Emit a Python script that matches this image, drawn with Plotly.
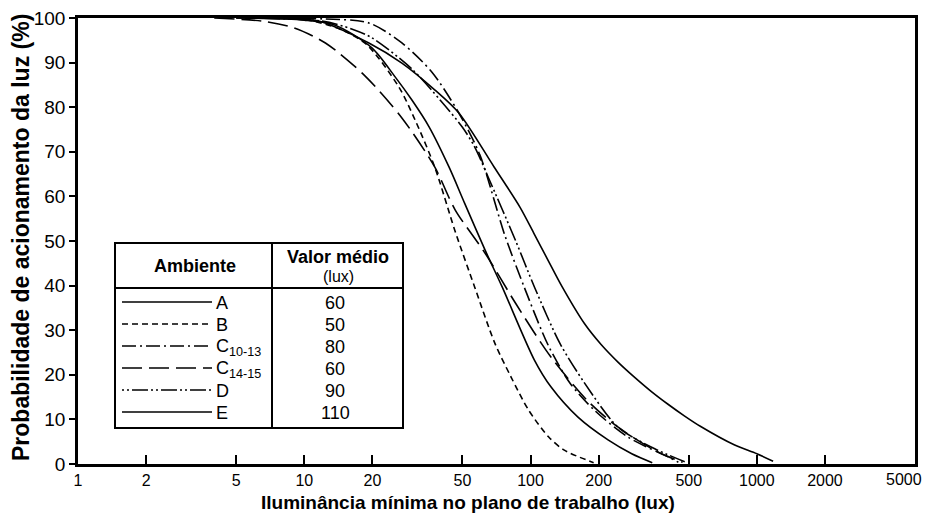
import plotly.graph_objects as go

# ---------------- data ----------------
x_ticks = [1, 2, 5, 10, 20, 50, 100, 200, 500, 1000, 2000, 5000]
x_tick_labels = ["1", "2", "5", "10", "20", "50", "100", "200", "500", "1000", "2000", ""]
x_last_label = "5000"
y_ticks = [0, 10, 20, 30, 40, 50, 60, 70, 80, 90, 100]

a_lux = [5, 10, 13.7, 19.9, 25.2, 29.9, 35.6, 43.6, 51.1, 62.9, 74.9, 104, 123, 162, 220, 280, 345]
a_pct = [100, 99.5, 98.4, 93.3, 86.8, 81.6, 75.6, 66.6, 58.5, 48.0, 39.7, 23.3, 17.3, 10.5, 5.4, 2.3, 0.3]

b_lux = [5, 10, 14.7, 18.9, 26.2, 30.9, 37.7, 46.4, 56.6, 69.5, 82, 98, 120, 141, 190]
b_pct = [100, 99.7, 97.3, 94.0, 84.5, 77.1, 66.6, 52.2, 39.7, 27.1, 19.5, 12.1, 6.1, 3.1, 0.3]

c1013_lux = [6, 12, 19.3, 27, 36.6, 48.2, 59.7, 76.7, 94, 120, 150, 192, 270, 405, 450]
c1013_pct = [100, 99.8, 98.9, 94.4, 87.9, 78.7, 69.3, 51.5, 39.5, 26.5, 18.0, 12.0, 6.0, 1.6, 0.4]

c1415_lux = [4, 6.5, 9.0, 12.4, 18.4, 27, 37.7, 46.4, 62.9, 86.7, 123, 180, 243, 365, 470]
c1415_pct = [100, 99.3, 97.8, 94.4, 87.2, 77.6, 66.6, 57.0, 47.3, 35.7, 24.0, 14.0, 8.3, 2.7, 0.4]

d_lux = [6, 12, 16.3, 20, 30, 40, 50, 56.6, 65, 86, 104, 135, 173, 243, 341, 480]
d_pct = [100, 99.3, 97.5, 95.5, 88.5, 81.5, 75.5, 71.1, 64.3, 50.0, 39.7, 27.0, 18.2, 8.3, 3.8, 0.5]

e_lux = [6, 9.8, 12, 19.3, 27, 37.7, 48.2, 69, 90, 104, 120, 137, 173, 205, 244, 286, 341, 405, 478, 565, 794, 1000, 1180]
e_pct = [100, 99.8, 99.1, 94.4, 89.9, 83.9, 78.7, 66.6, 57.5, 51.5, 45.5, 40.0, 31.5, 26.8, 22.8, 19.6, 16.3, 13.4, 10.8, 8.4, 4.3, 2.3, 0.6]

legend_names = ["A", "B", "C<sub>10-13</sub>", "C<sub>14-15</sub>", "D", "E"]
legend_means = ["60", "50", "80", "60", "90", "110"]

# ---------------- styles ----------------
DASH = {
    "A": "solid",
    "B": "6px,4px",
    "C1013": "14px,4px,2px,4px",
    "C1415": "20px,7px",
    "D": "2px,3px,2px,3px,16px,3px",
    "E": "solid",
}
series = [
    ("A", a_lux, a_pct, DASH["A"]),
    ("B", b_lux, b_pct, DASH["B"]),
    ("C10-13", c1013_lux, c1013_pct, DASH["C1013"]),
    ("C14-15", c1415_lux, c1415_pct, DASH["C1415"]),
    ("D", d_lux, d_pct, DASH["D"]),
    ("E", e_lux, e_pct, DASH["E"]),
]

# the page body adds an 8px margin on every side; size the figure so nothing scrolls
OFF = 8
W, H = 933 - 2 * OFF, 521 - 2 * OFF
PL, PR, PT, PB = 78, 915, 18, 464          # plot area in window pixels
L, T = PL - OFF, PT - OFF
R, B = W - (PR - OFF), H - (PB - OFF)
PW, PH = PR - PL, PB - PT


def px(x):
    return (x - PL) / PW


def py(y):
    return (PB - y) / PH


fig = go.Figure()
for name, xs, ys, dash in series:
    fig.add_trace(go.Scatter(
        x=xs, y=ys, mode="lines", name=name,
        line=dict(color="black", width=1.6, dash=dash, shape="spline", smoothing=0.8),
        showlegend=False, hoverinfo="skip",
    ))

shapes = []
annotations = []

# table box
box_l, box_r, box_t, box_b = px(115), px(403), py(243), py(428)
shapes.append(dict(type="rect", xref="paper", yref="paper", x0=box_l, x1=box_r, y0=box_b, y1=box_t,
                   line=dict(color="black", width=2), fillcolor="white", layer="above"))
shapes.append(dict(type="line", xref="paper", yref="paper", x0=box_l, x1=box_r, y0=py(288), y1=py(288),
                   line=dict(color="black", width=2)))
shapes.append(dict(type="line", xref="paper", yref="paper", x0=px(272), x1=px(272), y0=box_b, y1=box_t,
                   line=dict(color="black", width=2)))

row_y = [302, 324, 346, 368, 390, 412]
for (name, xs, ys, dash), lab, val, ry in zip(series, legend_names, legend_means, row_y):
    shapes.append(dict(type="line", xref="paper", yref="paper", x0=px(122), x1=px(212), y0=py(ry), y1=py(ry),
                       line=dict(color="black", width=1.6, dash=dash)))
    annotations.append(dict(xref="paper", yref="paper", x=px(214), y=py(ry + 1), text=lab, showarrow=False,
                            xanchor="left", yanchor="middle", font=dict(size=18, color="black")))
    annotations.append(dict(xref="paper", yref="paper", x=px(335), y=py(ry + 1), text=val, showarrow=False,
                            xanchor="center", yanchor="middle", font=dict(size=18, color="black")))

annotations.append(dict(xref="paper", yref="paper", x=px(195), y=py(266), text="<b>Ambiente</b>",
                        showarrow=False, xanchor="center", yanchor="middle", font=dict(size=18, color="black")))
annotations.append(dict(xref="paper", yref="paper", x=px(338), y=py(257), text="<b>Valor médio</b>",
                        showarrow=False, xanchor="center", yanchor="middle", font=dict(size=18, color="black")))
annotations.append(dict(xref="paper", yref="paper", x=px(338), y=py(276), text="(lux)",
                        showarrow=False, xanchor="center", yanchor="middle", font=dict(size=16, color="black")))

# last x tick label, kept inside the page edge
annotations.append(dict(xref="paper", yref="paper", x=px(924), y=py(479), text=x_last_label,
                        showarrow=False, xanchor="right", yanchor="middle", font=dict(size=16, color="black")))

# axis titles
annotations.append(dict(xref="paper", yref="paper", x=px(468), y=py(502),
                        text="<b>Iluminância mínima no plano de trabalho (lux)</b>",
                        showarrow=False, xanchor="center", yanchor="middle", font=dict(size=19, color="black")))
annotations.append(dict(xref="paper", yref="paper", x=px(21), y=py(238), textangle=-90,
                        text="<b>Probabilidade de acionamento da luz (%)</b>",
                        showarrow=False, xanchor="center", yanchor="middle", font=dict(size=23, color="black")))

fig.update_layout(
    width=W, height=H,
    margin=dict(l=L, r=R, t=T, b=B, autoexpand=False),
    paper_bgcolor="white", plot_bgcolor="white",
    font=dict(family="Liberation Sans, Arial, sans-serif", color="black", size=16),
    shapes=shapes, annotations=annotations,
)
fig.update_xaxes(
    type="log", range=[0, 3.69897], automargin=False,
    tickvals=x_ticks, ticktext=x_tick_labels, ticklabeloverflow="allow",
    ticks="inside", ticklen=9, tickwidth=1.5, tickcolor="black",
    showline=True, linewidth=2.5, linecolor="black", mirror=True,
    showgrid=False, zeroline=False, tickfont=dict(size=16), ticklabelstandoff=0,
)
fig.update_yaxes(
    range=[0, 100], tickvals=y_ticks, automargin=False, ticklabeloverflow="allow",
    ticks="outside", ticklen=6, tickwidth=1.5, tickcolor="black",
    showline=True, linewidth=2.5, linecolor="black", mirror=True,
    showgrid=False, zeroline=False, tickfont=dict(size=19),
)

fig.write_html("out.html")
